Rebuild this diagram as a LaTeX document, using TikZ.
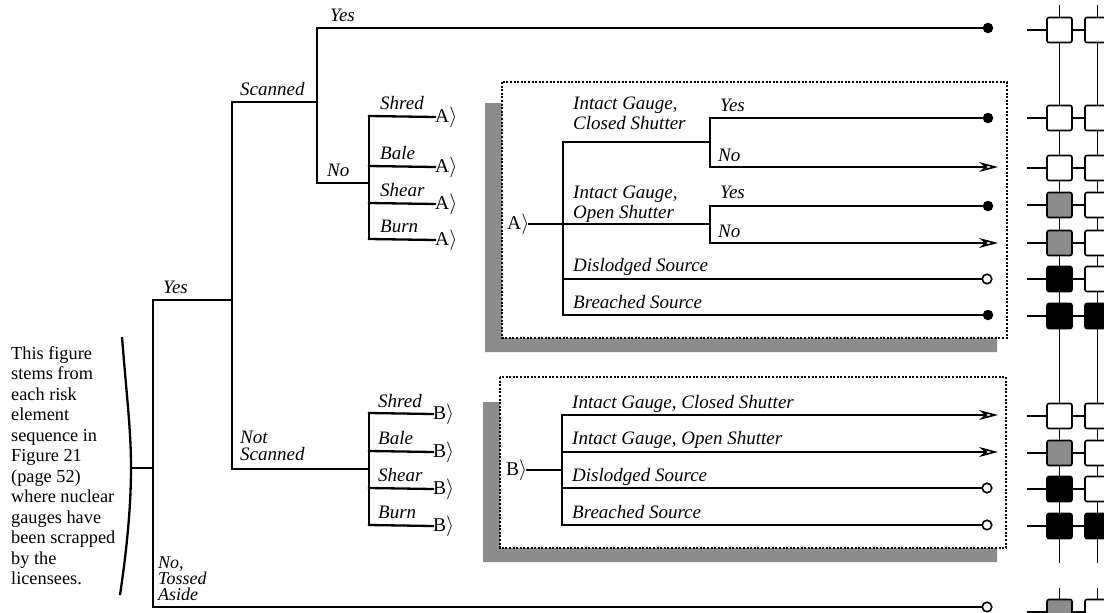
\documentclass[tikz,border=0pt]{standalone}
\usepackage{fontspec}
\setmainfont{Liberation Serif}
\usetikzlibrary{arrows.meta}

\begin{document}
\begin{tikzpicture}[
x=1pt, y=-1pt,
font=\fontsize{18.3}{20.5}\selectfont,
line/.style={line width=2.3pt, line cap=rect},
lbl/.style={font=\fontsize{19}{20}\selectfont\itshape, anchor=base west, inner sep=0pt},
mlbl/.style={font=\fontsize{19}{20}\selectfont\itshape, anchor=north west, inner sep=0pt, align=left},
tag/.style={font=\fontsize{19.5}{20}\selectfont, anchor=west, inner sep=0pt},
dot/.style={circle, fill=black, inner sep=0pt, minimum size=10.5pt},
hollow/.style={circle, draw, line width=1.6pt, fill=white, inner sep=0pt, minimum size=9.5pt},
openarrow/.style={-{Stealth[length=19pt,width=10pt,inset=6pt,open,line width=1.6pt]}, line width=2.3pt},
panel/.style={draw, line width=2.2pt, dash pattern=on 2pt off 1.6pt},
shade/.style={fill=black!45},
cell/.style={draw, line width=1.6pt, rounded corners=2pt, minimum size=25pt, inner sep=0pt},
wire/.style={line width=1.5pt}
]
\useasboundingbox (0,0) rectangle (1104,613);

\node[anchor=north west, inner sep=0pt, align=left] (note) at (11,346) {This figure\\stems from\\each risk\\element\\sequence in\\Figure 21\\(page 52)\\where nuclear\\gauges have\\been scrapped\\by the\\licensees.};
\coordinate (root) at (131,468);
\draw[line width=2.3pt] (122,337) .. controls (127,400) and (131,430) .. (root) .. controls (131,510) and (126,555) .. (120,595);

\coordinate (main) at (153,468);
\coordinate (maintop) at (153,300);
\coordinate (mainbot) at (153,607);
\coordinate (scan) at (232,300);
\coordinate (scantop) at (232,102);
\coordinate (scanbot) at (232,469);
\coordinate (check) at (317,102);
\coordinate (checktop) at (317,28);
\coordinate (checkbot) at (317,183);
\coordinate (forkA) at (369,183);
\coordinate (forkA1) at (369,116);
\coordinate (forkA2) at (369,166);
\coordinate (forkA3) at (369,203);
\coordinate (forkA4) at (369,239);
\coordinate (forkB) at (369,469);
\coordinate (forkB1) at (369,413);
\coordinate (forkB2) at (369,451);
\coordinate (forkB3) at (369,488);
\coordinate (forkB4) at (369,525);

\node[dot] (endyes) at (988,28) {};
\node[hollow] (endtoss) at (987,607) {};
\node[tag] (toA1) at (435,117) {A$\rangle$};
\node[tag] (toA2) at (435,167) {A$\rangle$};
\node[tag] (toA3) at (435,204) {A$\rangle$};
\node[tag] (toA4) at (435,240) {A$\rangle$};
\node[tag] (toB1) at (433,414) {B$\rangle$};
\node[tag] (toB2) at (433,452) {B$\rangle$};
\node[tag] (toB3) at (433,489) {B$\rangle$};
\node[tag] (toB4) at (433,526) {B$\rangle$};

\draw[line] (root) -- (main);
\draw[line] (maintop) -- (mainbot);
\draw[line] (maintop) -- (scan);
\draw[line] (scantop) -- (scanbot);
\draw[line] (scantop) -- (check);
\draw[line] (checktop) -- (checkbot);
\draw[line] (checktop) -- (endyes);
\draw[line] (checkbot) -- (forkA);
\draw[line] (forkA1) -- (forkA4);
\draw[line] (forkA1) -- (toA1.west);
\draw[line] (forkA2) -- (toA2.west);
\draw[line] (forkA3) -- (toA3.west);
\draw[line] (forkA4) -- (toA4.west);
\draw[line] (scanbot) -- (forkB);
\draw[line] (forkB1) -- (forkB4);
\draw[line] (forkB1) -- (toB1.west);
\draw[line] (forkB2) -- (toB2.west);
\draw[line] (forkB3) -- (toB3.west);
\draw[line] (forkB4) -- (toB4.west);
\draw[line] (mainbot) -- (endtoss);

\node[lbl] (yes1) at (330,21) {Yes};
\node[lbl] (scanned) at (240,95) {Scanned};
\node[lbl] (no1) at (327,176) {No};
\node[lbl] (shredA) at (380,109) {Shred};
\node[lbl] (baleA) at (380,159) {Bale};
\node[lbl] (shearA) at (380,196) {Shear};
\node[lbl] (burnA) at (380,232) {Burn};
\node[lbl] (yes0) at (163,293) {Yes};
\node[mlbl] (notscanned) at (240,431) {Not\\[-3pt]Scanned};
\node[lbl] (shredB) at (378,407) {Shred};
\node[lbl] (baleB) at (378,444) {Bale};
\node[lbl] (shearB) at (378,481) {Shear};
\node[lbl] (burnB) at (378,518) {Burn};
\node[mlbl, font=\fontsize{18}{16}\selectfont\itshape] (tossed) at (158,557) {No,\\Tossed\\Aside};

\fill[shade] (485,103) -- (502,103) -- (502,338) -- (997,338) -- (997,352) -- (485,352) -- cycle;
\draw[panel] (502,82) rectangle (1007,338);
\node[tag] (seqA) at (507,224) {A$\rangle$};
\coordinate (gauge) at (563,224);
\coordinate (gaugetop) at (563,142);
\coordinate (gaugedis) at (563,279);
\coordinate (gaugebot) at (563,315);
\coordinate (closed) at (710,142);
\coordinate (closedyes) at (710,118);
\coordinate (closedno) at (710,167);
\coordinate (open) at (710,224);
\coordinate (openyes) at (710,206);
\coordinate (openno) at (710,243);
\node[dot] (endA1) at (988,118) {};
\coordinate (endA2) at (998,167);
\node[dot] (endA3) at (988,206) {};
\coordinate (endA4) at (998,243);
\node[hollow] (endA5) at (987,279) {};
\node[dot] (endA6) at (988,315) {};
\draw[line] (seqA.east) -- (gauge);
\draw[line] (gaugetop) -- (gaugebot);
\draw[line] (gaugetop) -- (closed);
\draw[line] (closedyes) -- (closedno);
\draw[line] (closedyes) -- (endA1);
\draw[openarrow] (closedno) -- (endA2);
\draw[line] (gauge) -- (open);
\draw[line] (openyes) -- (openno);
\draw[line] (openyes) -- (endA3);
\draw[openarrow] (openno) -- (endA4);
\draw[line] (gaugedis) -- (endA5);
\draw[line] (gaugebot) -- (endA6);
\node[mlbl] (closedlbl) at (573,96.5) {Intact Gauge,\\Closed Shutter};
\node[lbl] (yes2) at (720,111) {Yes};
\node[lbl] (no2) at (718,161) {No};
\node[mlbl] (openlbl) at (573,186) {Intact Gauge,\\Open Shutter};
\node[lbl] (yes3) at (720,198) {Yes};
\node[lbl] (no3) at (718,237) {No};
\node[lbl] (dislA) at (573,271) {Dislodged Source};
\node[lbl] (breachA) at (573,308) {Breached Source};

\fill[shade] (483,402) -- (500,402) -- (500,548) -- (997,548) -- (997,562) -- (483,562) -- cycle;
\draw[panel] (500,377) rectangle (1006,548);
\node[tag] (seqB) at (506,470) {B$\rangle$};
\coordinate (split) at (562,470);
\coordinate (splittop) at (562,415);
\coordinate (split2) at (562,452);
\coordinate (split3) at (562,488);
\coordinate (splitbot) at (562,525);
\coordinate (endB1) at (998,415);
\coordinate (endB2) at (998,452);
\node[hollow] (endB3) at (987,488) {};
\node[hollow] (endB4) at (987,525) {};
\draw[line] (seqB.east) -- (split);
\draw[line] (splittop) -- (splitbot);
\draw[openarrow] (splittop) -- (endB1);
\draw[openarrow] (split2) -- (endB2);
\draw[line] (split3) -- (endB3);
\draw[line] (splitbot) -- (endB4);
\node[lbl] (closedB) at (572,408) {Intact Gauge, Closed Shutter};
\node[lbl] (openB) at (572,444) {Intact Gauge, Open Shutter};
\node[lbl] (dislB) at (572,481) {Dislodged Source};
\node[lbl] (breachB) at (572,518) {Breached Source};

\foreach \i/\y/\fa/\fb in {1/30/white/white, 2/118/white/white, 3/168/white/white, 4/205/black!45/white, 5/243/black!45/white, 6/279/black/white, 7/316/black/black, 8/416/white/white, 9/453/black!45/white, 10/489/black/white, 11/526/black/black, 12/612/black!45/white}{
  \coordinate (stub\i) at (1027,\y);
  \node[cell, fill=\fa] (left\i) at (1059.5,\y) {};
  \node[cell, fill=\fb] (right\i) at (1097.5,\y) {};
  \draw[wire] (stub\i) -- (left\i);
  \draw[wire] (left\i) -- (right\i);
}
\foreach \i/\j in {1/2,2/3,3/4,4/5,5/6,6/7,7/8,8/9,9/10,10/11}{
  \draw[wire] (left\i) -- (left\j);
  \draw[wire] (right\i) -- (right\j);
}
\coordinate (lefttop) at (1059.5,5);
\coordinate (righttop) at (1097.5,5);
\coordinate (leftend) at (1059.5,563);
\coordinate (rightend) at (1097.5,563);
\coordinate (leftlow) at (1059.5,588);
\coordinate (rightlow) at (1097.5,588);
\draw[wire] (lefttop) -- (left1);
\draw[wire] (righttop) -- (right1);
\draw[wire] (left11) -- (leftend);
\draw[wire] (right11) -- (rightend);
\draw[wire] (leftlow) -- (left12);
\draw[wire] (rightlow) -- (right12);
\end{tikzpicture}
\end{document}
